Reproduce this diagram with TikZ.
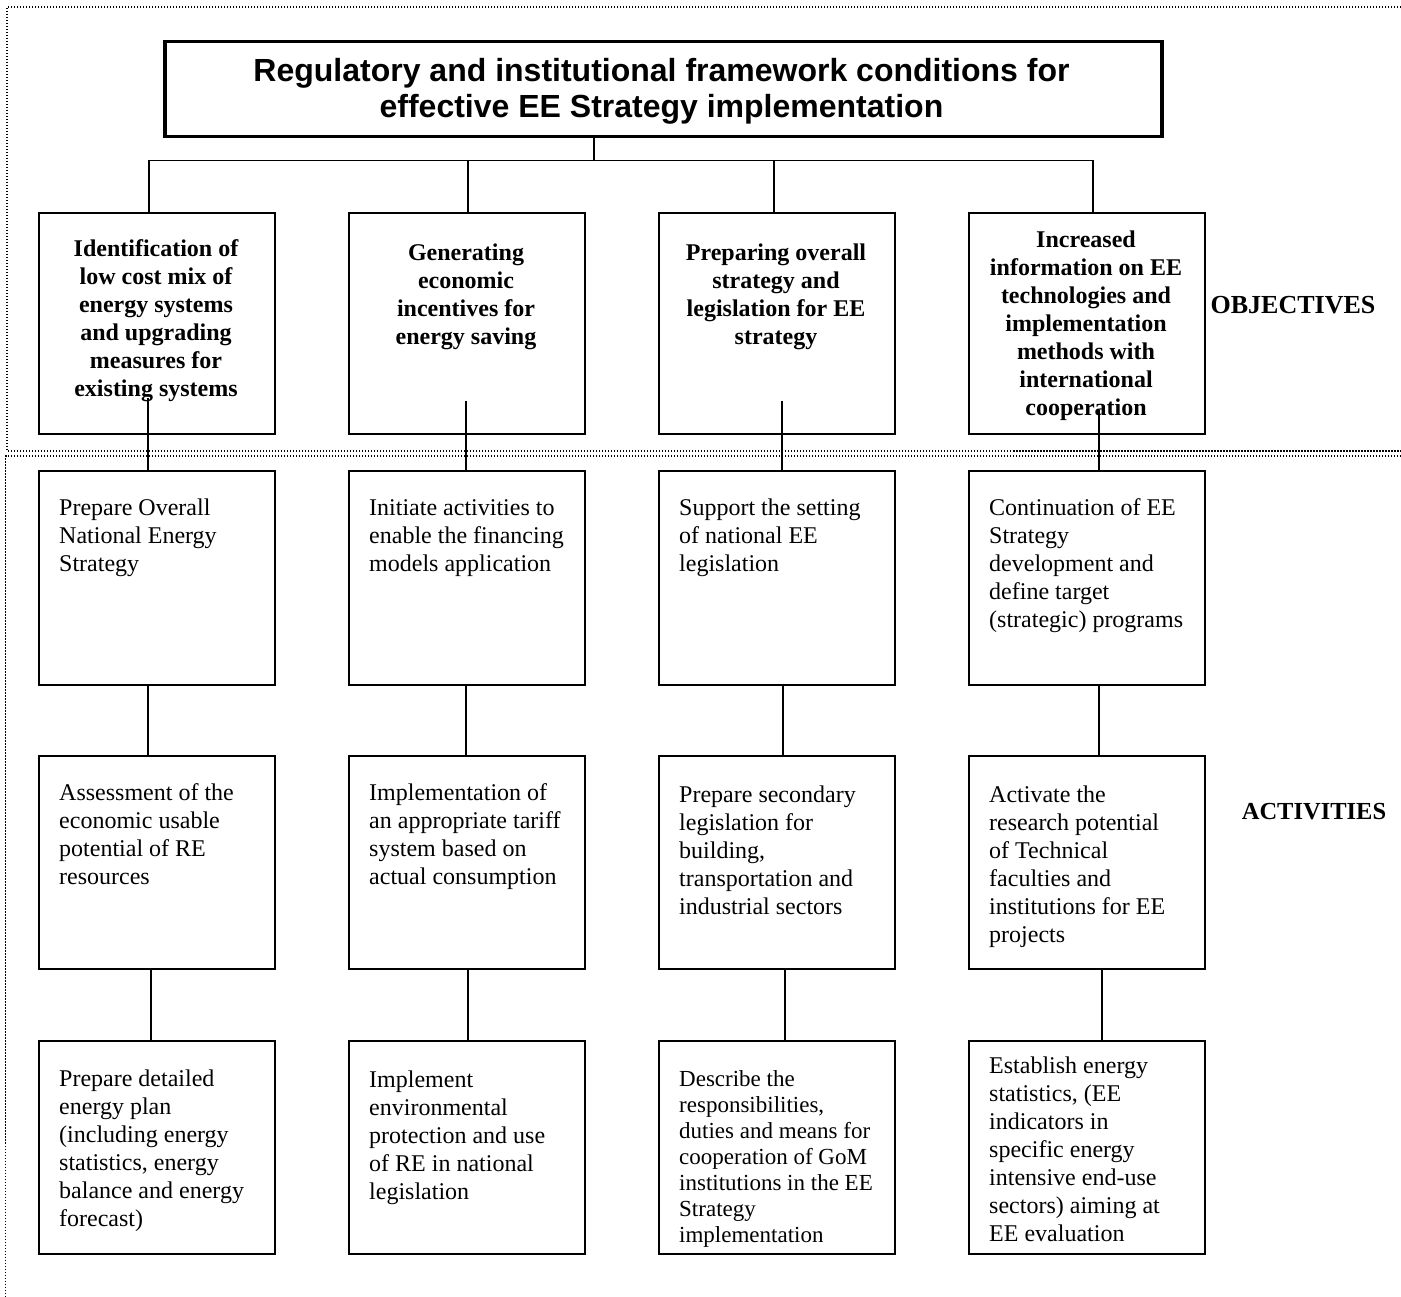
\documentclass[tikz,border=0pt]{standalone}
\usepackage{fontspec}
\setmainfont{Liberation Serif}
\newfontfamily\headfont{Liberation Sans}

\begin{document}
\begin{tikzpicture}[x=1pt,y=-1pt,
  frame/.style={line width=1.7pt, black, dash pattern=on 1.2pt off 1.8pt},
  headbox/.style={draw, line width=3.5pt, minimum width=997pt, minimum height=95pt, inner sep=0pt, anchor=north west},
  stepbox/.style={draw, line width=1.8pt, minimum width=236pt, inner sep=0pt, anchor=north west},
  objbox/.style={stepbox, minimum height=221pt},
  row1/.style={stepbox, minimum height=214pt},
  row2/.style={stepbox, minimum height=213pt},
  row3/.style={stepbox, minimum height=213pt},
  link/.style={line width=1.5pt},
  headtext/.style={anchor=north, align=center, inner sep=0pt, font=\headfont\bfseries\fontsize{32}{36}\selectfont},
  objtext/.style={anchor=north, align=center, inner sep=0pt, font=\bfseries\fontsize{24}{28}\selectfont},
  acttext/.style={anchor=north west, align=left, inner sep=0pt, font=\fontsize{24}{28}\selectfont},
  smalltext/.style={anchor=north west, align=left, inner sep=0pt, font=\fontsize{23}{26}\selectfont},
  sidelabel/.style={inner sep=0pt, font=\bfseries\fontsize{24.5}{28}\selectfont}
]
\useasboundingbox (0,0) rectangle (1401,1297);

% dotted frames of the two bands
\draw[frame] (1401,6.7) -- (7.3,6.7) -- (7.3,451) -- (1401,451);
\draw[frame] (1401,456) -- (5.5,456) -- (5.5,1297);

% heading
\node[headbox] (head) at (163,40) {};
\node[headtext] (headtxt) at (661.5,55.8) {\strut Regulatory and institutional framework conditions for\\effective EE Strategy implementation};

% objectives
\node[objbox] (o1) at (38,212) {};
\node[objbox] (o2) at (348,212) {};
\node[objbox] (o3) at (658,212) {};
\node[objbox] (o4) at (968,212) {};
\node[objtext] (o1t) at (156,236.4) {\strut Identification of\\low cost mix of\\energy systems\\and upgrading\\measures for\\existing systems};
\node[objtext] (o2t) at (466,240.4) {\strut Generating\\economic\\incentives for\\energy saving};
\node[objtext] (o3t) at (776,240.4) {\strut Preparing overall\\strategy and\\legislation for EE\\strategy};
\node[objtext] (o4t) at (1086,227.4) {\strut Increased\\information on EE\\technologies and\\implementation\\methods with\\international\\cooperation};

\node[sidelabel, font=\bfseries\fontsize{26}{28}\selectfont] (objlabel) at (1293,305) {OBJECTIVES};
\node[sidelabel] (actlabel) at (1314,812) {ACTIVITIES};

% activities, first row
\node[row1] (a1) at (38,470) {};
\node[row1] (a2) at (348,470) {};
\node[row1] (a3) at (658,470) {};
\node[row1] (a4) at (968,470) {};
\node[acttext] (a1t) at (59,495.4) {\strut Prepare Overall\\National Energy\\Strategy};
\node[acttext] (a2t) at (369,495.4) {\strut Initiate activities to\\enable the financing\\models application};
\node[acttext] (a3t) at (679,495.4) {\strut Support the setting\\of national EE\\legislation};
\node[acttext] (a4t) at (989,495.4) {\strut Continuation of EE\\Strategy\\development and\\define target\\(strategic) programs};

% activities, second row
\node[row2] (b1) at (38,755) {};
\node[row2] (b2) at (348,755) {};
\node[row2] (b3) at (658,755) {};
\node[row2] (b4) at (968,755) {};
\node[acttext] (b1t) at (59,780.4) {\strut Assessment of the\\economic usable\\potential of RE\\resources};
\node[acttext] (b2t) at (369,780.4) {\strut Implementation of\\an appropriate tariff\\system based on\\actual consumption};
\node[acttext] (b3t) at (679,782.4) {\strut Prepare secondary\\legislation for\\building,\\transportation and\\industrial sectors};
\node[acttext] (b4t) at (989,782.4) {\strut Activate the\\research potential\\of Technical\\faculties and\\institutions for EE\\projects};

% activities, third row
\node[row3] (c1) at (38,1040) {};
\node[row3] (c2) at (348,1040) {};
\node[row3] (c3) at (658,1040) {};
\node[row3] (c4) at (968,1040) {};
\node[acttext] (c1t) at (59,1066.4) {\strut Prepare detailed\\energy plan\\(including energy\\statistics, energy\\balance and energy\\forecast)};
\node[acttext] (c2t) at (369,1067.4) {\strut Implement\\environmental\\protection and use\\of RE in national\\legislation};
\node[smalltext] (c3t) at (679,1067.8) {\strut Describe the\\responsibilities,\\duties and means for\\cooperation of GoM\\institutions in the EE\\Strategy\\implementation};
\node[acttext] (c4t) at (989,1053.4) {\strut Establish energy\\statistics, (EE\\indicators in\\specific energy\\intensive end-use\\sectors) aiming at\\EE evaluation};

% heading to objectives
\coordinate (hub) at (594,160.7);
\coordinate (barL) at (149,160.7);
\coordinate (barR) at (1093,160.7);
\coordinate (drop2) at (468,160.7);
\coordinate (drop3) at (774,160.7);
\draw[link] (head.south -| hub) -- (hub);
\draw[link] (o1.north -| barL) -- (barL) -- (barR) -- (o4.north -| barR);
\draw[link] (drop2) -- (o2.north -| drop2);
\draw[link] (drop3) -- (o3.north -| drop3);

% objectives to first activities
\coordinate (s1) at (148,398);
\coordinate (s2) at (466,401);
\coordinate (s3) at (782,401);
\coordinate (s4) at (1099,410);
\draw[link] (s1) -- (a1.north -| s1);
\draw[link] (s2) -- (a2.north -| s2);
\draw[link] (s3) -- (a3.north -| s3);
\draw[link] (s4) -- (a4.north -| s4);

% first to second row
\draw[link] (a1.south -| 148,0) -- (b1.north -| 148,0);
\draw[link] (a2.south -| 466,0) -- (b2.north -| 466,0);
\draw[link] (a3.south -| 783,0) -- (b3.north -| 783,0);
\draw[link] (a4.south -| 1099,0) -- (b4.north -| 1099,0);

% second to third row
\draw[link] (b1.south -| 151,0) -- (c1.north -| 151,0);
\draw[link] (b2.south -| 468,0) -- (c2.north -| 468,0);
\draw[link] (b3.south -| 785,0) -- (c3.north -| 785,0);
\draw[link] (b4.south -| 1102,0) -- (c4.north -| 1102,0);
\end{tikzpicture}
\end{document}
